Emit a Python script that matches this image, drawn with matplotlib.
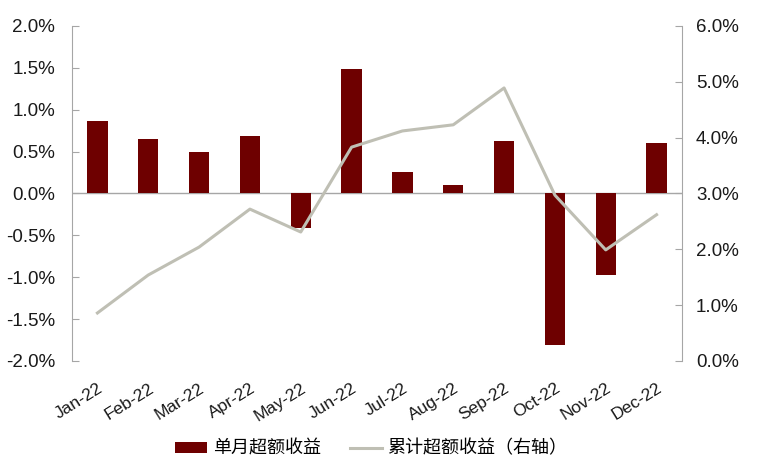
import matplotlib
matplotlib.use("Agg")
import matplotlib.pyplot as plt
import numpy as np
from matplotlib.ticker import FuncFormatter

plt.rcParams["font.family"] = ["Liberation Sans", "Noto Sans CJK SC", "DejaVu Sans"]

months = ["Jan-22", "Feb-22", "Mar-22", "Apr-22", "May-22", "Jun-22",
          "Jul-22", "Aug-22", "Sep-22", "Oct-22", "Nov-22", "Dec-22"]
monthly_excess = [0.87, 0.65, 0.50, 0.69, -0.41, 1.49,
                  0.26, 0.10, 0.63, -1.81, -0.97, 0.60]
cumulative_excess = [0.86, 1.54, 2.04, 2.72, 2.31, 3.83,
                     4.12, 4.23, 4.89, 2.97, 1.99, 2.62]

BAR_COLOR = "#6e0000"
LINE_COLOR = "#bfbfb4"
AXIS_COLOR = "#a6a6a6"
TEXT_COLOR = "#1a1a1a"
FS = 13.5

fig = plt.figure(figsize=(7.62, 4.74), dpi=100)
ax = fig.add_axes([0.0945, 0.2384, 0.8005, 0.7068])
ax2 = ax.twinx()

x = np.arange(len(months))
bars = ax.bar(x, monthly_excess, width=0.4, color=BAR_COLOR, zorder=3)
line, = ax2.plot(x, cumulative_excess, color=LINE_COLOR, linewidth=2.2)

ax.set_xlim(-0.5, len(months) - 0.5)
ax.set_ylim(-2.0, 2.0)
ax.set_yticks(np.arange(-2.0, 2.01, 0.5))
ax2.set_ylim(0, 6.0)
ax2.set_yticks(np.arange(0, 6.01, 1.0))

ax.yaxis.set_major_formatter(FuncFormatter(lambda v, _: f"{v:.1f}%"))
ax2.yaxis.set_major_formatter(FuncFormatter(lambda v, _: f"{v:.1f}%"))

ax.axhline(0, color=AXIS_COLOR, linewidth=1.0, zorder=2)

for a in (ax, ax2):
    a.spines["top"].set_visible(False)
    a.spines["bottom"].set_visible(False)
    a.spines["left"].set_color(AXIS_COLOR)
    a.spines["right"].set_color(AXIS_COLOR)
ax.spines["right"].set_visible(False)
ax2.spines["left"].set_visible(False)

ax.tick_params(axis="y", direction="in", length=5, color=AXIS_COLOR,
               labelsize=FS, labelcolor=TEXT_COLOR, pad=12)
ax2.tick_params(axis="y", direction="in", length=5, color=AXIS_COLOR,
                labelsize=FS, labelcolor=TEXT_COLOR, pad=10)

ax.set_xticks(x)
ax.set_xticklabels(months, rotation=32, ha="right", rotation_mode="anchor",
                   fontsize=12.5, color=TEXT_COLOR)
ax.tick_params(axis="x", length=0, pad=14)

ax2.set_zorder(ax.get_zorder() + 1)
ax2.patch.set_visible(False)

fig.legend([bars, line], ["单月超额收益", "累计超额收益（右轴）"],
           loc="lower center", bbox_to_anchor=(0.487, 0.0), ncol=2, frameon=False,
           handlelength=1.8, handleheight=0.55, columnspacing=1.6, handletextpad=0.3,
           prop={"family": ["Noto Sans CJK SC", "DejaVu Sans"], "size": 13})

fig.savefig("out.png", dpi=100)
